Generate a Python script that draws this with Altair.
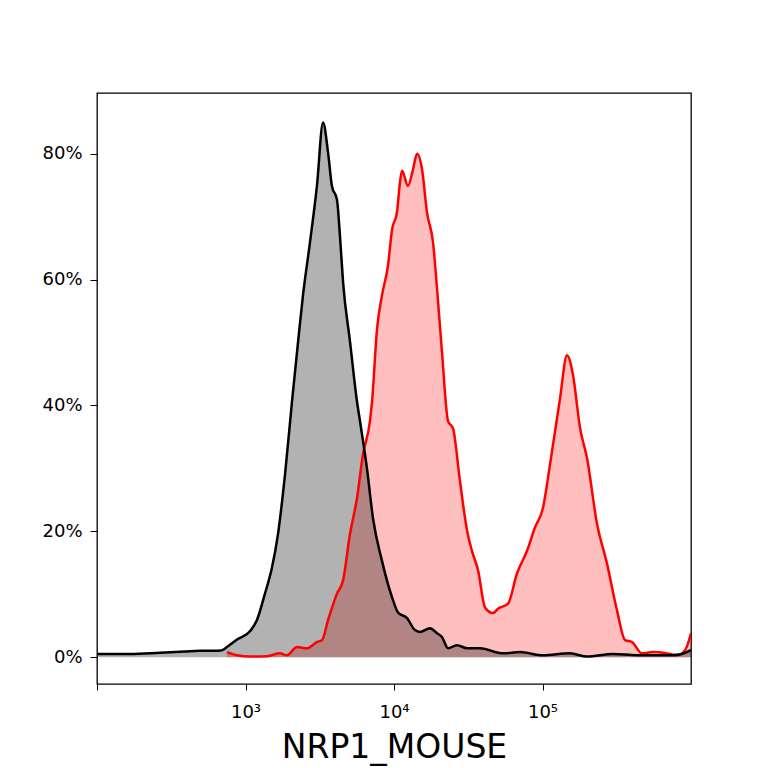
import altair as alt
import pandas as pd

# x positions are log10(intensity), y is % of max
ctrl_x = [2.000, 2.222, 2.424, 2.593, 2.694, 2.795, 2.842, 2.875, 2.943, 3.030,
          3.077, 3.131, 3.178, 3.219, 3.266, 3.313, 3.354, 3.387, 3.434, 3.481,
          3.522, 3.556, 3.582, 3.616, 3.636, 3.657, 3.704, 3.751, 3.771, 3.818,
          3.859, 3.919, 3.987, 4.027, 4.088, 4.141, 4.175, 4.242, 4.290, 4.323,
          4.364, 4.424, 4.492, 4.579, 4.734, 4.848, 5.003, 5.185, 5.300, 5.475,
          5.636, 5.879, 5.973, 6.000]
ctrl_pct = [0.5, 0.5, 0.7, 0.9, 1.0, 1.0, 1.1, 1.6, 2.8, 4.1,
            5.9, 10.1, 14.2, 19.6, 29.0, 40.6, 50.1, 57.5, 65.9, 74.9,
            85.0, 80.2, 74.9, 72.7, 67.0, 59.6, 50.1, 40.6, 37.5, 30.0,
            22.0, 15.3, 9.5, 7.1, 6.2, 4.3, 4.0, 4.6, 3.8, 3.2,
            1.4, 1.9, 1.4, 1.4, 0.6, 0.8, 0.3, 0.6, 0.1, 0.5,
            0.3, 0.3, 0.8, 1.1]

stain_x = [2.875, 2.943, 3.030, 3.145, 3.232, 3.279, 3.347, 3.414, 3.481, 3.515,
           3.556, 3.616, 3.657, 3.704, 3.751, 3.791, 3.838, 3.852, 3.886, 3.919,
           3.960, 3.987, 4.020, 4.040, 4.054, 4.094, 4.128, 4.155, 4.189, 4.222,
           4.263, 4.290, 4.323, 4.364, 4.397, 4.444, 4.492, 4.525, 4.566, 4.613,
           4.667, 4.700, 4.768, 4.828, 4.896, 4.949, 5.003, 5.051, 5.118, 5.165,
           5.205, 5.253, 5.300, 5.367, 5.434, 5.502, 5.556, 5.603, 5.670, 5.744,
           5.838, 5.906, 5.960, 6.000]
stain_pct = [0.8, 0.3, 0.1, 0.15, 0.6, 0.3, 1.6, 1.4, 2.4, 2.7,
             5.9, 10.1, 12.2, 19.6, 25.3, 32.2, 37.5, 40.6, 52.2, 57.5,
             62.3, 68.0, 70.7, 75.4, 77.3, 74.9, 77.5, 80.0, 77.5, 70.7,
             65.9, 58.5, 48.5, 37.5, 36.4, 28.0, 20.1, 16.9, 13.8, 7.9,
             7.0, 7.7, 8.5, 13.3, 16.9, 20.6, 23.7, 30.7, 41.1, 48.0,
             44.9, 36.4, 31.6, 21.2, 14.9, 7.4, 2.7, 2.4, 0.6, 0.8,
             0.6, 0.3, 1.1, 3.8]

x_ticks = [2, 3, 4, 5]
y_ticks = [0, 20, 40, 60, 80]

ctrl = pd.DataFrame({"x": ctrl_x, "pct": ctrl_pct})
stain = pd.DataFrame({"x": stain_x, "pct": stain_pct})

x_enc = alt.X(
    "x:Q",
    scale=alt.Scale(domain=[2, 6], nice=False, zero=False),
    axis=alt.Axis(
        title="NRP1_MOUSE", values=x_ticks, grid=False, domain=False,
        labelExpr="datum.value == 3 ? '10³' : datum.value == 4 ? '10⁴' : datum.value == 5 ? '10⁵' : ''",
        labelFont="DejaVu Sans", labelFontSize=18, labelColor="black", labelPadding=13,
        tickSize=6, tickColor="black", labelFlush=False,
        titleFont="DejaVu Sans", titleFontSize=33, titleFontWeight="normal", titleColor="black",
        titleY=73, titleBaseline="alphabetic",
    ),
)
y_enc = alt.Y(
    "pct:Q",
    scale=alt.Scale(domain=[-4.27, 89.67], nice=False, zero=False),
    axis=alt.Axis(
        title="", values=y_ticks, grid=False, domain=False,
        labelExpr="datum.value + '%'",
        labelFont="DejaVu Sans", labelFontSize=18, labelColor="black", labelPadding=8,
        tickSize=7, tickColor="black",
    ),
)

def area(df, color, op):
    return alt.Chart(df).mark_area(color=color, opacity=op, interpolate="monotone", clip=True).encode(x=x_enc, y=y_enc)

def line(df, color):
    return alt.Chart(df).mark_line(color=color, strokeWidth=2.5, interpolate="monotone", clip=True).encode(x=x_enc, y=y_enc)

chart = alt.layer(
    area(stain, "red", 0.25),
    area(ctrl, "black", 0.3),
    line(stain, "red"),
    line(ctrl, "black"),
).properties(
    width=594, height=591,
    autosize=alt.AutoSizeParams(type="none"),
    padding={"left": 89, "top": 85, "right": 69, "bottom": 84},
).configure_view(stroke="black", strokeWidth=1.3)

chart.save("out.html", embed_options={"renderer": "svg", "actions": False})
